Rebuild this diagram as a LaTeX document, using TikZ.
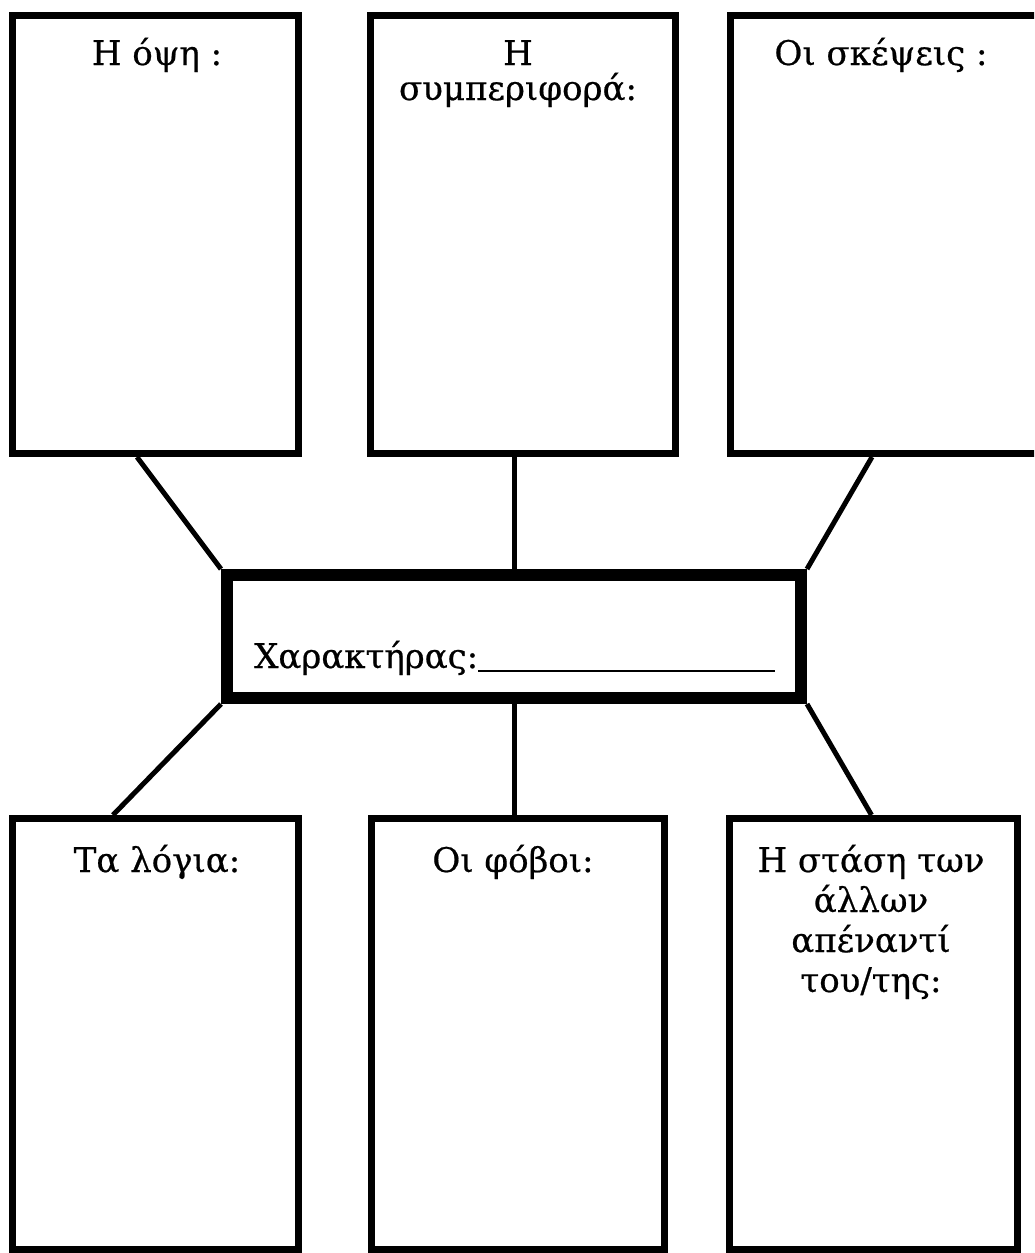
\documentclass[tikz,border=0pt]{standalone}
\usepackage{fontspec}
\setmainfont{DejaVu Serif}
\newfontfamily\headfont[FakeBold=0.6]{DejaVu Serif}

\begin{document}
\begin{tikzpicture}[x=1pt, y=-1pt,
    panel/.style={draw, line width=7pt, inner sep=0pt},
    heading/.style={font=\headfont\fontsize{34}{40}\selectfont, align=center, anchor=base, inner sep=0pt},
    link/.style={line width=5pt}]
    \useasboundingbox (0,0) rectangle (1034,1253);
    \clip (0,0) rectangle (1034,1253);
    % Top row of boxes
    \node[panel, minimum width=286pt, minimum height=438pt] (look) at (155.5,234.5) {};
    \node[heading] (looktxt) at (157,65) {Η όψη :};
    \node[panel, minimum width=305pt, minimum height=438pt] (behave) at (523,234.5) {};
    % base anchor sits on the last line
    \node[heading, font=\headfont\fontsize{34}{35}\selectfont] (behavetxt) at (518,100) {Η\\συμπεριφορά:};
    \node[panel, minimum width=311pt, minimum height=438pt] (think) at (886,234.5) {};
    \node[heading] (thinktxt) at (881,65) {Οι σκέψεις :};
    % Centre box
    \node[draw, line width=12pt, inner sep=0pt, minimum width=574pt, minimum height=123pt] (hero) at (514,636.5) {};
    \node[heading, anchor=base west] (heroname) at (254,668) {Χαρακτήρας:};
    \coordinate (blankend) at (775,671);
    \draw[line width=1.8pt] ([yshift=-3pt]heroname.base east) -- (blankend);
    % Bottom row of boxes
    \node[panel, minimum width=286pt, minimum height=431pt] (words) at (155.5,1034) {};
    \node[heading] (wordstxt) at (157,872) {Τα λόγια:};
    \node[panel, minimum width=293pt, minimum height=431pt] (fears) at (518,1034) {};
    \node[heading] (fearstxt) at (513,872) {Οι φόβοι:};
    \node[panel, minimum width=288pt, minimum height=431pt] (others) at (873.5,1034) {};
    \node[heading] (otherstxt) at (871,992) {Η στάση των\\άλλων\\απέναντί\\του/της:};
    % Connectors
    \draw[link] ([xshift=-18.5pt]look.south) -- (hero.north west);
    \draw[link] (hero.north) -- (hero.north |- behave.south);
    \draw[link] ([xshift=-14pt]think.south) -- (hero.north east);
    \draw[link] (hero.south west) -- ([xshift=-42.5pt]words.north);
    \draw[link] (hero.south) -- (hero.south |- fears.north);
    \draw[link] (hero.south east) -- ([xshift=-2pt]others.north);
\end{tikzpicture}
\end{document}
